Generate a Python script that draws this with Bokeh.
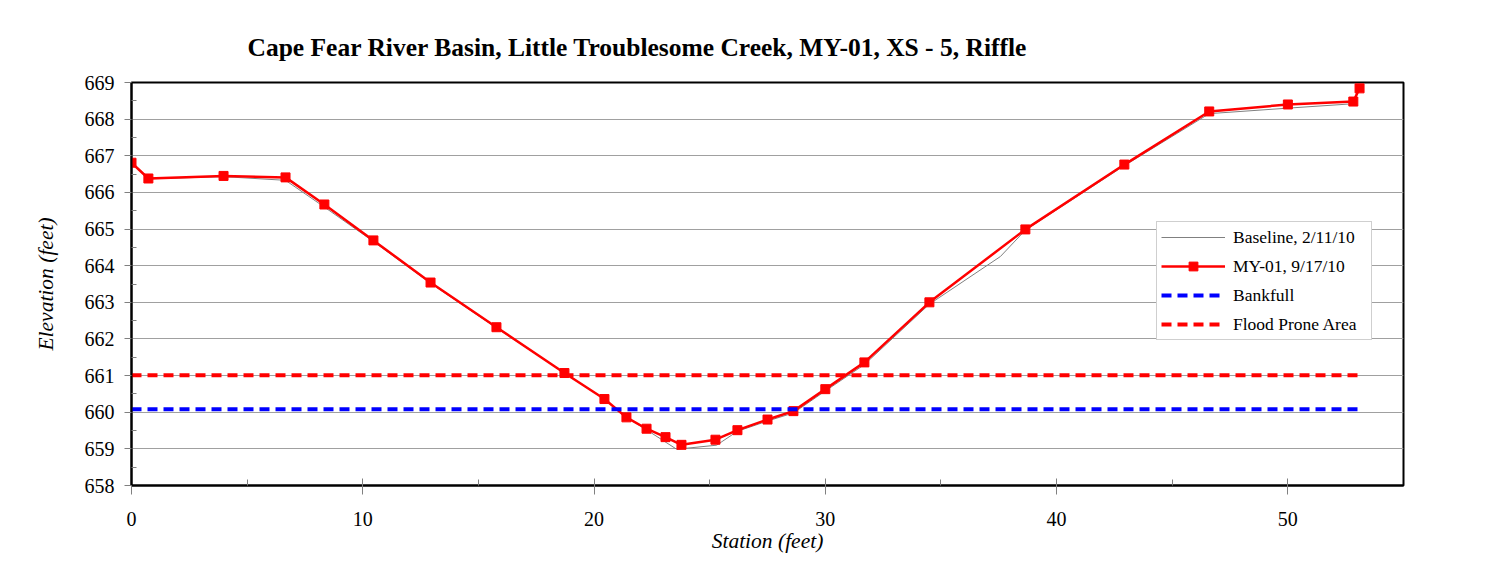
from bokeh.plotting import figure
from bokeh.models import FixedTicker, Legend, LegendItem, Range1d
from bokeh.embed import file_html
from bokeh.resources import INLINE

# Data
station_my01 = [0.0, 0.73, 3.98, 6.66, 8.34, 10.46, 12.93, 15.78, 18.72, 20.45, 21.4,
                22.27, 23.09, 23.78, 25.25, 26.2, 27.5, 28.62, 30.0, 31.69, 34.5,
                38.65, 42.93, 46.6, 50.0, 52.83, 53.1]
elev_my01 = [666.81, 666.38, 666.45, 666.41, 665.67, 664.69, 663.54, 662.32, 661.07,
             660.36, 659.86, 659.55, 659.32, 659.11, 659.25, 659.51, 659.80, 660.03,
             660.63, 661.36, 663.0, 664.99, 666.76, 668.21, 668.40, 668.48, 668.84]

station_base = [0.0, 0.73, 3.98, 6.66, 8.34, 10.46, 12.93, 15.78, 18.72, 20.45, 21.4,
                22.27, 23.57, 25.3, 26.2, 27.5, 28.62, 30.0, 31.69, 34.5, 37.57,
                38.65, 42.93, 46.6, 50.0, 52.83, 53.1]
elev_base = [666.8, 666.37, 666.43, 666.33, 665.6, 664.66, 663.52, 662.3, 661.07,
             660.36, 659.86, 659.52, 658.99, 659.1, 659.48, 659.76, 659.98, 660.58,
             661.3, 662.95, 664.25, 664.97, 666.73, 668.15, 668.3, 668.42, 668.84]

bankfull_x = [0.0, 53.1]
bankfull_y = [660.08, 660.08]
flood_x = [0.0, 53.1]
flood_y = [661.01, 661.01]

x_ticks = [0, 10, 20, 30, 40, 50]
x_minor = [5, 15, 25, 35, 45]
y_ticks = list(range(658, 670))
y_minor = [658.5 + i for i in range(11)]

FONT = "Liberation Serif"

p = figure(width=1476, height=560, output_backend="svg", toolbar_location=None,
           x_range=Range1d(0, 55), y_range=Range1d(658, 669),
           min_border_left=131, min_border_right=73, min_border_top=82,
           min_border_bottom=75)

p.title.text = "Cape Fear River Basin, Little Troublesome Creek, MY-01, XS - 5, Riffle"
p.title.text_font = FONT
p.title.text_font_size = "25.5px"
p.title.text_font_style = "bold"
p.title.text_color = "black"
p.title.align = "left"
p.title.offset = 116
p.title.standoff = 41

p.outline_line_color = "black"
p.outline_line_width = 2
p.background_fill_color = "white"
p.border_fill_color = "white"

p.xgrid.visible = False
p.ygrid.grid_line_color = "#a0a0a0"
p.ygrid.grid_line_width = 1
p.ygrid.ticker = FixedTicker(ticks=y_ticks)

p.xaxis.ticker = FixedTicker(ticks=x_ticks, minor_ticks=x_minor)
p.yaxis.ticker = FixedTicker(ticks=y_ticks, minor_ticks=y_minor)

p.axis.axis_line_color = "black"
p.axis.axis_line_width = 2
p.axis.major_tick_line_color = "#808080"
p.axis.minor_tick_line_color = "#808080"
p.axis.major_label_text_font = FONT
p.axis.major_label_text_font_size = "20px"
p.axis.major_label_text_color = "black"
p.axis.axis_label_text_font = FONT
p.axis.axis_label_text_font_size = "21.5px"
p.axis.axis_label_text_font_style = "italic"
p.axis.axis_label_text_color = "black"

p.xaxis.major_tick_in = 7
p.xaxis.major_tick_out = 9
p.xaxis.minor_tick_in = 6
p.xaxis.minor_tick_out = 0
p.xaxis.major_label_standoff = 17
p.xaxis.axis_label = "Station (feet)"
p.xaxis.axis_label_standoff = 0

p.yaxis.major_tick_in = 0
p.yaxis.major_tick_out = 7
p.yaxis.minor_tick_in = 5
p.yaxis.minor_tick_out = 0
p.yaxis.major_label_standoff = 10
p.yaxis.axis_label = "Elevation (feet)"
p.yaxis.axis_label_standoff = 24

r_base = p.line(station_base, elev_base, line_color="#808080", line_width=1)
r_my = p.line(station_my01, elev_my01, line_color="#ff0000", line_width=2.5)
r_my_pts = p.scatter(station_my01, elev_my01, marker="square", size=9,
                     fill_color="#ff0000", line_color="#ff0000")
r_bank = p.line(bankfull_x, bankfull_y, line_color="#0000ff", line_width=4,
                line_dash="10 6")
r_flood = p.line(flood_x, flood_y, line_color="#ff0000", line_width=4,
                 line_dash="10 6")

legend = Legend(items=[
    LegendItem(label="Baseline, 2/11/10", renderers=[r_base]),
    LegendItem(label="MY-01, 9/17/10", renderers=[r_my, r_my_pts]),
    LegendItem(label="Bankfull", renderers=[r_bank]),
    LegendItem(label="Flood Prone Area", renderers=[r_flood]),
], location=(1025, 145))
legend.label_text_font = FONT
legend.label_text_font_size = "17.5px"
legend.label_text_color = "black"
legend.glyph_width = 64
legend.glyph_height = 22
legend.label_height = 22
legend.label_width = 134
legend.label_standoff = 8
legend.spacing = 7
legend.padding = 4
legend.margin = 0
legend.border_line_color = "#a0a0a0"
legend.border_line_width = 1
legend.background_fill_color = "white"
legend.background_fill_alpha = 1.0
p.add_layout(legend, "center")

open("out.html", "w").write(file_html(p, INLINE))
